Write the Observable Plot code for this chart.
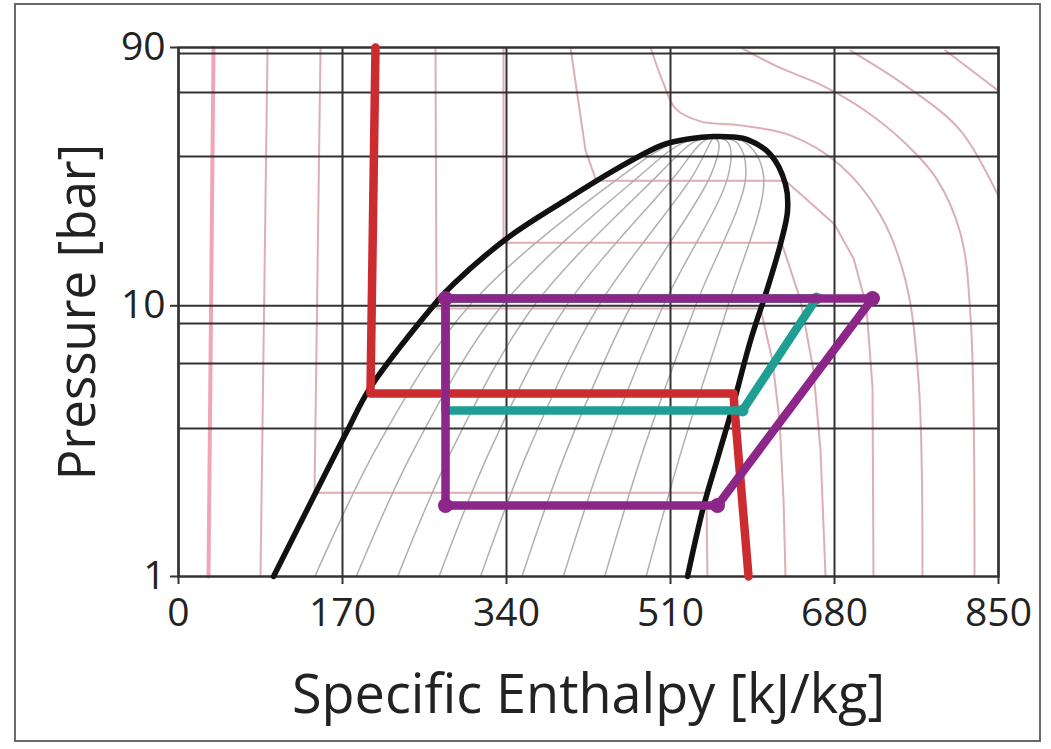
<!DOCTYPE html>
<html>
<head>
<meta charset="utf-8">
<script src="https://cdn.jsdelivr.net/npm/d3@7"></script>
<script src="https://cdn.jsdelivr.net/npm/@observablehq/plot@0.6"></script>
<style>
  html, body { margin: 0; padding: 0; background: #fff; }
  #wrap { position: relative; width: 1051px; height: 749px; overflow: hidden; }
  #border { position: absolute; left: 14px; top: 3px; width: 1027px; height: 739px; border: 2px solid #6a6a6a; box-sizing: border-box; }
  #chart { position: absolute; left: 0; top: 0; }
</style>
</head>
<body>
<div id="wrap"><div id="border"></div><div id="chart"></div></div>
<script>
// ---- axis ticks / labels ----
const hTicks = [0, 170, 340, 510, 680, 850];
const pTicks = [1, 10, 90];
const pGrid = [3.52, 6.12, 8.6, 10, 35.6, 61.4, 85.5];
const xLabel = "Specific Enthalpy [kJ/kg]";
const yLabel = "Pressure [bar]";

// ---- saturation dome (h kJ/kg, p bar) ----
const domeH = [98.5, 141, 175.2, 199.0, 268.5, 285.1, 341.0, 399.1, 455.1, 502.7, 530, 554.6, 575, 589.8, 613.7, 629.2, 631.3, 624.0, 610.5, 592.9, 574.3, 559.7, 544.2, 527.6];
const domeP = [1.0, 2.0, 3.47, 5.0, 10.43, 12.05, 17.8, 24.3, 32.2, 39.4, 41.4, 42.2, 42.0, 41.1, 36.2, 28.1, 22.4, 16.9, 11.6, 7.43, 4.22, 2.8, 1.81, 1.0];

// ---- constant quality lines inside the dome ----
const qualityP = [1, 3, 10, 30, 40, 42.2];
const q10 = [141.4, 205.6, 301.5, 458.5, 514, 554.6];
const q20 = [184.3, 245.2, 335.0, 477.0, 523, 554.6];
const q30 = [227.2, 284.8, 368.5, 495.5, 533, 554.6];
const q40 = [270.1, 324.4, 402.0, 514.0, 542, 554.6];
const q50 = [313.1, 364.0, 435.5, 532.5, 551, 554.6];
const q60 = [356.0, 403.6, 469.0, 551.0, 560, 554.6];
const q70 = [398.9, 443.2, 502.5, 569.5, 570, 554.6];
const q80 = [441.8, 482.8, 536.0, 588.0, 579, 554.6];
const q90 = [484.7, 522.4, 569.5, 606.5, 588, 554.6];

// ---- isotherms ----
const tm75H = [36.3, 31.1];               const tm75P = [90, 1];
const tm50H = [92.3, 85.0];               const tm50P = [90, 1];
const tm25H = [147.2, 141.0, 547.3, 548.3]; const tm25P = [90, 2.04, 2.04, 1];
const t0H = [204.2, 199.0, 575.3, 577.4, 590.9]; const t0P = [90, 4.74, 4.74, 3.77, 1];
const t25H = [266.4, 267.4, 603.3, 615.7, 623.0, 627.2, 629.2]; const t25P = [90, 9.77, 9.77, 6.27, 3.77, 1.91, 1];
const t50H = [336.9, 336.9, 625.1, 644.8, 658.2, 665.5, 670.7]; const t50P = [90, 17.1, 17.1, 10.5, 5.77, 2.92, 1];
const t75H = [406.3, 421.9, 433, 629.2, 650, 680, 700, 713, 719.4, 720.4]; const t75P = [90, 37.5, 29, 29, 24.9, 20, 14.9, 10, 5, 1];
const t100H = [489.3, 502.7, 515.2, 541.1, 582.6, 634.4, 686.2, 727.7, 753.6, 767.1, 771.2]; const t100P = [90, 66.3, 53.5, 48.0, 46.4, 42.6, 33.0, 21.6, 12.4, 5.3, 1];
const t125H = [582.6, 625.1, 667.6, 710.1, 753.6, 785.7, 810.6, 821, 825.1]; const t125P = [90, 75.3, 65.1, 53.1, 39.8, 29.5, 18.5, 9.13, 1];
const t150H = [696.6, 753.6, 810.6, 852]; const t150P = [87.7, 65.1, 44.4, 24.5];
const t175H = [795, 852]; const t175P = [87.7, 61.4];

// ---- cycles ----
const purpleH = [276.8, 719.4, 558.7, 276.8, 276.8];
const purpleP = [10.64, 10.64, 1.83, 1.83, 10.64];
const tealH = [276.8, 276.8, 584.6, 661.3, 276.8];
const tealP = [10.64, 4.10, 4.10, 10.64, 10.64];

const rows = (H, P) => H.map((h, i) => ({h, p: P[i]}));
const subIso = [[tm50H, tm50P], [tm25H, tm25P], [t25H, t25P], [t50H, t50P], [t75H, t75P]].map(([H, P]) => rows(H, P));
const superIso = [[t100H, t100P], [t125H, t125P], [t150H, t150P], [t175H, t175P]].map(([H, P]) => rows(H, P));
const qual = [q10, q20, q30, q40, q50, q60, q70, q80, q90].map(H => rows(H, qualityP));

const pinkStyle = {x: "h", y: "p", stroke: "#d49aa4", strokeWidth: 2, strokeOpacity: 0.8, clip: true};
const purpleRows = rows(purpleH, purpleP);
const tealRows = rows(tealH, tealP);
const font = "'Open Sans', sans-serif";

const chart = Plot.plot({
  width: 1051, height: 749,
  marginLeft: 178, marginRight: 53, marginTop: 47, marginBottom: 173,
  style: {fontFamily: font, color: "#222", background: "transparent"},
  x: {domain: [0, 850]},
  y: {type: "log", domain: [1, 90]},
  marks: [
    ...qual.map(d => Plot.line(d, {x: "h", y: "p", stroke: "#b0b0b0", strokeWidth: 1.5, curve: "catmull-rom"})),
    Plot.line(rows(tm75H, tm75P), {x: "h", y: "p", stroke: "#f0a6b6", strokeWidth: 4}),
    ...subIso.map(d => Plot.line(d, {...pinkStyle, curve: "linear"})),
    ...superIso.map(d => Plot.line(d, {...pinkStyle, curve: "catmull-rom"})),
    Plot.ruleX(hTicks, {stroke: "#333", strokeWidth: 2}),
    Plot.ruleY(pGrid, {stroke: "#333", strokeWidth: 2}),
    Plot.frame({stroke: "#333", strokeWidth: 2.5}),
    Plot.line(rows(domeH, domeP), {x: "h", y: "p", stroke: "#111", strokeWidth: 5.5, curve: "catmull-rom"}),
    Plot.line(rows(t0H, t0P), {x: "h", y: "p", stroke: "#cc2b30", strokeWidth: 8.5, strokeLinejoin: "round"}),
    Plot.line(tealRows, {x: "h", y: "p", stroke: "#1f9e93", strokeWidth: 8.5, strokeLinejoin: "round"}),
    Plot.dot(tealRows.slice(2, 4), {x: "h", y: "p", r: 6, fill: "#1f9e93"}),
    Plot.line(purpleRows, {x: "h", y: "p", stroke: "#8c2689", strokeWidth: 8.5, strokeLinejoin: "round"}),
    Plot.dot(purpleRows.slice(0, 4), {x: "h", y: "p", r: 7.5, fill: "#8c2689"}),
    Plot.axisX(hTicks, {tickSize: 8, tickPadding: 14, fontSize: 39, label: null, stroke: "#333", strokeWidth: 2, tickFormat: d => String(d)}),
    Plot.axisY(pTicks, {tickSize: 8, label: null, stroke: "#333", strokeWidth: 2, tickFormat: () => ""}),
    Plot.text(pTicks, {x: 0, y: d => d, dx: -13, textAnchor: "end", text: d => String(d), fontSize: 39, fill: "#222"}),
    Plot.text([xLabel], {frameAnchor: "bottom", dy: 136, lineAnchor: "bottom", textAnchor: "middle", fontSize: 54, fill: "#222"}),
    Plot.text([yLabel], {frameAnchor: "left", dx: -100, rotate: -90, textAnchor: "middle", lineAnchor: "middle", fontSize: 51, fill: "#222"})
  ]
});
document.getElementById("chart").appendChild(chart);
</script>
</body>
</html>
